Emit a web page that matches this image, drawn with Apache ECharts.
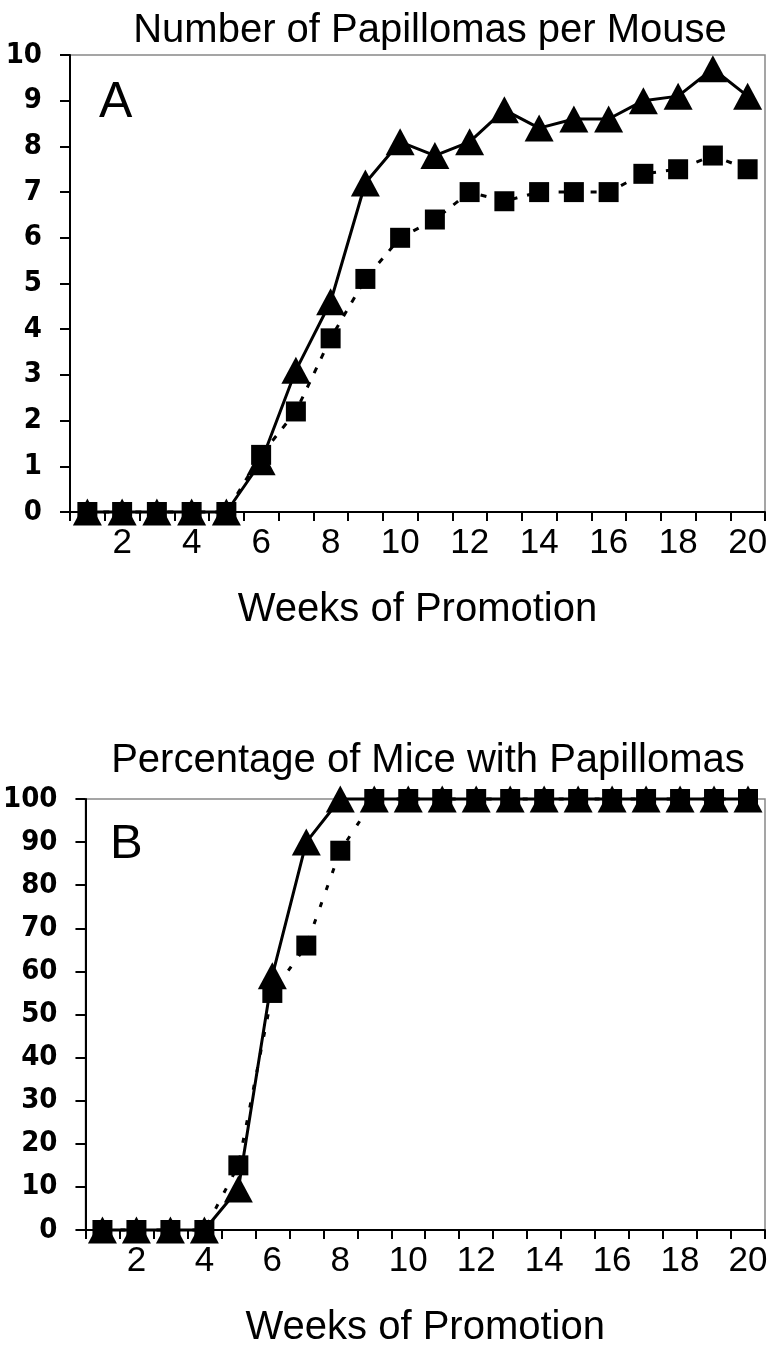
<!DOCTYPE html>
<html>
<head>
<meta charset="utf-8">
<script src="https://cdn.jsdelivr.net/npm/echarts@6/dist/echarts.min.js"></script>
<style>
html,body{margin:0;padding:0;background:#fff;}
#chart{width:771px;height:1349px;}
</style>
</head>
<body>
<div id="chart"></div>
<script>
// ---- data ----
const weeks = ['1','2','3','4','5','6','7','8','9','10','11','12','13','14','15','16','17','18','19','20'];
const titleA = 'Number of Papillomas per Mouse';
const titleB = 'Percentage of Mice with Papillomas';
const xAxisName = 'Weeks of Promotion';
const panelLabels = ['A', 'B'];
// Panel A: number of papillomas per mouse
const papTriangle = [0,0,0,0,0,1.1,3.1,4.6,7.2,8.1,7.8,8.1,8.8,8.4,8.6,8.6,9.0,9.1,9.7,9.1];
const papSquare   = [0,0,0,0,0,1.25,2.2,3.8,5.1,6.0,6.4,7.0,6.8,7.0,7.0,7.0,7.4,7.5,7.8,7.5];
// Panel B: percentage of mice with papillomas
const pctTriangle = [0,0,0,0,9.5,59,90,100,100,100,100,100,100,100,100,100,100,100,100,100];
const pctSquare   = [0,0,0,0,15,55,66,88,100,100,100,100,100,100,100,100,100,100,100,100];
const yA = {min:0, max:10, interval:1};
const yB = {min:0, max:100, interval:10};

const FONT = "'Liberation Sans', Arial, sans-serif";
const NARROW = "'Liberation Sans Narrow', 'Arial Narrow', 'DejaVu Sans Condensed', sans-serif";

const chart = echarts.init(document.getElementById('chart'), null, {renderer:'canvas'});

function xAxis(gridIndex){
  return {
    type:'category', gridIndex, data: weeks, boundaryGap:true,
    name: xAxisName, nameLocation:'middle', nameGap: 78,
    nameTextStyle:{fontFamily:FONT, fontSize:40, color:'#000'},
    axisLine:{lineStyle:{color:'#000', width:2}},
    axisTick:{show:true, interval:0, length:9, lineStyle:{color:'#000', width:2}},
    axisLabel:{interval:(i)=> i%2===1, margin:14, fontFamily:FONT, fontSize:35, color:'#000'},
    splitLine:{show:false}
  };
}
function yAxis(gridIndex, cfg){
  return {
    type:'value', gridIndex, min:cfg.min, max:cfg.max, interval:cfg.interval,
    axisLine:{show:true, lineStyle:{color:'#000', width:2}},
    axisTick:{show:true, length:10, lineStyle:{color:'#000', width:2}},
    axisLabel:{margin:28, fontFamily:NARROW, fontWeight:'bold', fontSize:29, color:'#000', padding:[0,0,10,0]},
    splitLine:{show:false}
  };
}
function triSeries(idx, data){
  return {
    type:'line', xAxisIndex:idx, yAxisIndex:idx, data, clip:false, z:3,
    showAllSymbol:true,
    symbol:'triangle', symbolSize:[29,27], itemStyle:{color:'#000'},
    lineStyle:{color:'#000', width:3, type:'solid'}, animation:false
  };
}
function sqSeries(idx, data, dash){
  return {
    type:'line', xAxisIndex:idx, yAxisIndex:idx, data, clip:false, z:2,
    showAllSymbol:true,
    symbol:'rect', symbolSize:20, itemStyle:{color:'#000'},
    lineStyle:{color:'#000', width:3, type:dash}, animation:false
  };
}

chart.setOption({
  backgroundColor:'#fff',
  animation:false,
  title:[
    {text:titleA, left:425, top:6, textAlign:'center', textStyle:{fontFamily:FONT, fontSize:40, fontWeight:'normal', color:'#000'}},
    {text:titleB, left:423, top:736, textAlign:'center', textStyle:{fontFamily:FONT, fontSize:40, fontWeight:'normal', color:'#000'}}
  ],
  grid:[
    {left:70, top:55, width:695, height:457, show:true, borderColor:'#888', borderWidth:1.5, backgroundColor:'transparent'},
    {left:81, top:799, width:684, height:454, show:true, borderColor:'#888', borderWidth:1.5, backgroundColor:'transparent'}
  ],
  xAxis:[xAxis(0), xAxis(1)],
  yAxis:[yAxis(0, yA), yAxis(1, yB)],
  graphic:[
    {type:'text', left:99, top:78, style:{text:panelLabels[0], fontFamily:FONT, fontSize:50, fill:'#000'}},
    {type:'text', left:110, top:820, style:{text:panelLabels[1], fontFamily:FONT, fontSize:49, fill:'#000'}}
  ],
  series:[
    sqSeries(0, papSquare, [6,10]),
    triSeries(0, papTriangle),
    sqSeries(1, pctSquare, [5,13]),
    triSeries(1, pctTriangle)
  ]
});
</script>
</body>
</html>
